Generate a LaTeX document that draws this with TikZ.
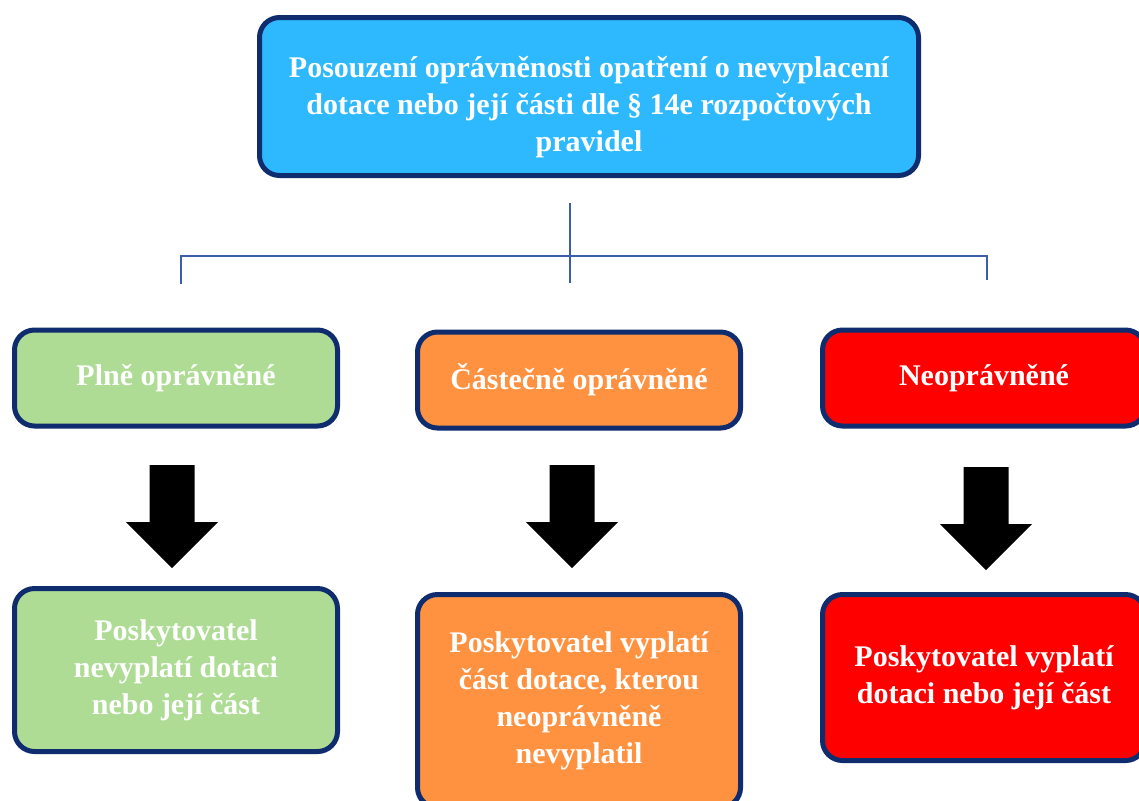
\documentclass[tikz,border=0pt]{standalone}
\usepackage{fontspec}
\setmainfont{Liberation Serif}
\definecolor{navyline}{HTML}{0E2C6E}
\definecolor{treeblue}{HTML}{3C5DAA}
\definecolor{skyfill}{HTML}{2EB9FF}
\definecolor{greenfill}{HTML}{AEDC94}
\definecolor{orangefill}{HTML}{FF9240}
\definecolor{redfill}{HTML}{FF0000}
\tikzset{
  box/.style={draw=navyline, line width=2.5pt, rounded corners=10pt, text=white,
    font=\bfseries\fontsize{15}{18.5}\selectfont, align=center, inner sep=0pt},
  rowbox/.style={box, minimum width=161.5pt},
  tree/.style={draw=treeblue, line width=1pt}
}
\begin{document}
\begin{tikzpicture}[x=0.5pt,y=-0.5pt]
\clip (0,0) rectangle (1139,800);
\fill[white] (0,0) rectangle (1139,800);
% top box
\node[box, fill=skyfill, minimum width=329.5pt, minimum height=79pt] (assess) at (589,96.5)
  {\rule{0pt}{21pt}Posouzení oprávněnosti opatření o nevyplacení\\dotace nebo její části dle § 14e rozpočtových\\pravidel};
% tree
\coordinate (trunk) at (570,203);
\coordinate (junction) at (570,256);
\coordinate (middrop) at (570,283);
\coordinate (leftdrop) at (181,284);
\coordinate (rightdrop) at (987,280);
\draw[tree] (trunk) -- (middrop);
\draw[tree] (leftdrop) |- (junction) -| (rightdrop);
% middle row
\node[rowbox, fill=greenfill, minimum height=48pt] (fullok) at (176,378) {Plně oprávněné};
\node[rowbox, fill=orangefill, minimum height=48pt] (partok) at (579,380) {Částečně oprávněné};
\node[rowbox, fill=redfill, minimum height=48pt] (notok) at (984,378) {Neoprávněné};
% block arrows
\foreach \ax/\at in {172/465, 572/465, 986/467}
  \fill[black] (\ax-22.5,\at) -- (\ax+22.5,\at) -- (\ax+22.5,\at+57) -- (\ax+46,\at+57)
    -- (\ax,\at+103) -- (\ax-46,\at+57) -- (\ax-22.5,\at+57) -- cycle;
% bottom row
\node[rowbox, fill=greenfill, minimum height=81.5pt] (fullpay) at (176,670)
  {Poskytovatel\\nevyplatí dotaci\\nebo její část};
\node[rowbox, fill=orangefill, minimum height=106.5pt] (partpay) at (579,701)
  {Poskytovatel vyplatí\\část dotace, kterou\\neoprávněně\\nevyplatil};
\node[rowbox, fill=redfill, minimum height=83pt] (notpay) at (984,677.5)
  {Poskytovatel vyplatí\\dotaci nebo její část};
\end{tikzpicture}
\end{document}
